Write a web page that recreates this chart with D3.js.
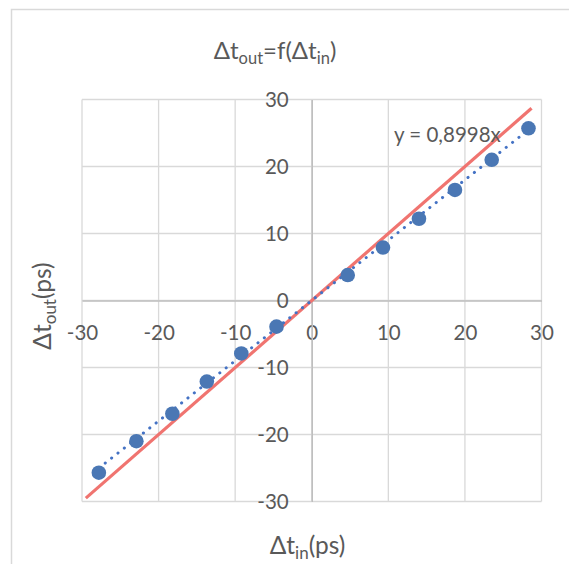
<!DOCTYPE html>
<html>
<head>
<meta charset="utf-8">
<script src="https://cdn.jsdelivr.net/npm/d3@7"></script>
<style>
  html, body { margin: 0; padding: 0; background: #fff; }
  svg { display: block; font-family: Lato, "Open Sans", sans-serif; }
</style>
</head>
<body>
<svg id="chart" width="569" height="564"></svg>
<script>
// ---- data ----
const xIn  = [-27.8, -22.9, -18.2, -13.7, -9.2, -4.6, 4.7, 9.3, 14.0, 18.7, 23.5, 28.3];
const yOut = [-25.7, -21.0, -16.9, -12.1, -7.9, -3.9, 3.8, 7.9, 12.2, 16.5, 21.0, 25.7];
const trendSlope = 0.8998;
const trendLabel = "y = 0,8998x";
const idealX = [-29.5, 28.7];           // reference line y = x
const xTicks = [-30, -20, -10, 0, 10, 20, 30];
const yTicks = [-30, -20, -10, 0, 10, 20, 30];

const svg = d3.select("#chart");
const textColor = "#595959";
const tickFont = 20.5;

// chart border
svg.append("rect").attr("x", 11.5).attr("y", 9.5).attr("width", 600).attr("height", 600)
  .attr("fill", "#fff").attr("stroke", "#d9d9d9").attr("stroke-width", 1.5);

const x = d3.scaleLinear().domain([-30, 30]).range([82, 541.5]);
const y = d3.scaleLinear().domain([-30, 30]).range([501.5, 99.5]);

// gridlines
const grid = svg.append("g").attr("stroke", "#d9d9d9").attr("stroke-width", 1.3);
grid.selectAll("line.v").data(xTicks).join("line")
  .attr("x1", d => x(d)).attr("x2", d => x(d)).attr("y1", y(30)).attr("y2", y(-30));
grid.selectAll("line.h").data(yTicks).join("line")
  .attr("y1", d => y(d)).attr("y2", d => y(d)).attr("x1", x(-30)).attr("x2", x(30));

// axes crossing at zero
const fmt = d => d3.format("d")(d).replace("−", "-");
const xAxis = d3.axisBottom(x).tickValues(xTicks).tickSize(0).tickFormat(fmt);
const yAxis = d3.axisLeft(y).tickValues(yTicks).tickSize(0).tickFormat(fmt);

const gx = svg.append("g").attr("transform", `translate(0,${y(0)})`).call(xAxis);
gx.select(".domain").attr("stroke", "#bfbfbf").attr("stroke-width", 1.5);
gx.selectAll("text").attr("fill", textColor).attr("font-size", tickFont)
  .attr("font-family", "Lato, sans-serif").attr("dy", null).attr("y", 39);

const gy = svg.append("g").attr("transform", `translate(${x(0)},0)`).call(yAxis);
gy.select(".domain").attr("stroke", "#bfbfbf").attr("stroke-width", 1.5);
gy.selectAll("text").attr("fill", textColor).attr("font-size", tickFont)
  .attr("font-family", "Lato, sans-serif").attr("x", -23).attr("dy", "0.36em");

// ideal line y = x
svg.append("line")
  .attr("x1", x(idealX[0])).attr("y1", y(idealX[0]))
  .attr("x2", x(idealX[1])).attr("y2", y(idealX[1]))
  .attr("stroke", "#f07470").attr("stroke-width", 3.2);

// trendline (dotted)
const xMin = d3.min(xIn), xMax = d3.max(xIn);
svg.append("line")
  .attr("x1", x(xMin)).attr("y1", y(trendSlope * xMin))
  .attr("x2", x(xMax)).attr("y2", y(trendSlope * xMax))
  .attr("stroke", "#4472c4").attr("stroke-width", 3)
  .attr("stroke-linecap", "round").attr("stroke-dasharray", "0.1 8");

// points
svg.append("g").selectAll("circle").data(xIn).join("circle")
  .attr("cx", d => x(d)).attr("cy", (d, i) => y(yOut[i])).attr("r", 7.3)
  .attr("fill", "#4a77b4");

// trendline label
svg.append("text").attr("x", 394).attr("y", 142).attr("fill", textColor)
  .attr("font-size", tickFont).text(trendLabel);

// title
const title = svg.append("text").attr("x", 275).attr("y", 59).attr("text-anchor", "middle")
  .attr("fill", textColor).attr("font-size", 24);
title.append("tspan").text("Δt");
title.append("tspan").attr("font-size", 16.5).attr("dy", 5).text("out");
title.append("tspan").attr("dy", -5).text("=f(Δt");
title.append("tspan").attr("font-size", 16.5).attr("dy", 5).text("in");
title.append("tspan").attr("dy", -5).text(")");

// x axis title
const xt = svg.append("text").attr("x", 307.5).attr("y", 554).attr("text-anchor", "middle")
  .attr("fill", textColor).attr("font-size", 24.5);
xt.append("tspan").text("Δt");
xt.append("tspan").attr("font-size", 17).attr("dy", 5).text("in");
xt.append("tspan").attr("dy", -5).text("(ps)");

// y axis title
const yt = svg.append("text").attr("transform", "translate(51,306) rotate(-90)")
  .attr("text-anchor", "middle").attr("fill", textColor).attr("font-size", 24.5);
yt.append("tspan").text("Δt");
yt.append("tspan").attr("font-size", 17).attr("dy", 5).text("out");
yt.append("tspan").attr("dy", -5).text("(ps)");
</script>
</body>
</html>
